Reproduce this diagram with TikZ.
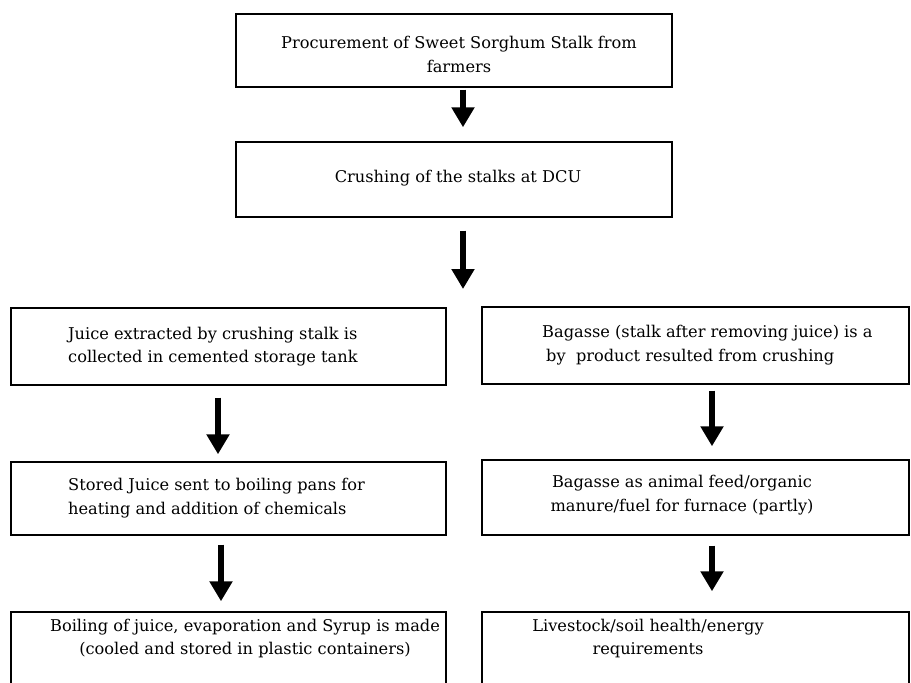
\documentclass[tikz,border=0pt]{standalone}
\usepackage{fontspec}
\setmainfont{DejaVu Serif}
\usetikzlibrary{arrows.meta}
\begin{document}
\begin{tikzpicture}[x=1pt,y=-1pt,
  box/.style={draw, line width=1.4pt, inner sep=0pt},
  txt/.style={inner sep=0pt, font=\fontsize{16.2}{23.5}\selectfont},
  arr/.style={line width=6pt, -{Triangle[width=22pt,length=20pt]}}]
\useasboundingbox (0,0) rectangle (911,683);
\clip (0,0) rectangle (911,683);
% boxes
\node[box, minimum width=436pt, minimum height=73pt] (b1) at (454,50.5) {};
\node[box, minimum width=436pt, minimum height=75pt] (b2) at (454,179.5) {};
\node[box, minimum width=435pt, minimum height=77pt] (b3) at (228.5,346.5) {};
\node[box, minimum width=427pt, minimum height=77pt] (b4) at (695.5,345.5) {};
\node[box, minimum width=435pt, minimum height=73pt] (b5) at (228.5,498.5) {};
\node[box, minimum width=427pt, minimum height=75pt] (b6) at (695.5,497.5) {};
\node[box, minimum width=435pt, minimum height=90pt] (b7) at (228.5,657) {};
\node[box, minimum width=427pt, minimum height=90pt] (b8) at (695.5,657) {};
% texts
\node[txt, align=center] (t1) at (459,54.5) {Procurement of Sweet Sorghum Stalk from\\farmers};
\node[txt] (t2) at (458,178) {Crushing of the stalks at DCU};
\node[txt, align=left, anchor=west] (t3) at (68,346.5) {Juice extracted by crushing stalk is\\collected in cemented storage tank};
\node[txt, align=left, anchor=west] (t4) at (542,345) {Bagasse (stalk after removing juice) is a\\\hspace*{4pt}by\ \ product resulted from crushing};
\node[txt, align=left, anchor=west] (t5) at (68,498) {Stored Juice sent to boiling pans for\\heating and addition of chemicals};
\node[txt, align=center] (t6) at (682,495) {Bagasse as animal feed/organic\\manure/fuel for furnace (partly)};
\node[txt, align=center] (t7) at (245,638.5) {Boiling of juice, evaporation and Syrup is made\\(cooled and stored in plastic containers)};
\node[txt, align=center] (t8) at (648,638.5) {Livestock/soil health/energy\\requirements};
% arrow x positions
\coordinate (xa) at (463,0);
\coordinate (xb) at (218,0);
\coordinate (xc) at (712,0);
\coordinate (xd) at (221,0);
\coordinate (split) at (463,289);
% arrows
\draw[arr, shorten <=2pt, shorten >=14pt] (b1.south -| xa) -- (b2.north -| xa);
\draw[arr, shorten <=13pt] (b2.south -| xa) -- (split);
\draw[arr, shorten <=12pt, shorten >=7pt] (b3.south -| xb) -- (b5.north -| xb);
\draw[arr, shorten <=6pt, shorten >=13pt] (b4.south -| xc) -- (b6.north -| xc);
\draw[arr, shorten <=9pt, shorten >=10pt] (b5.south -| xd) -- (b7.north -| xd);
\draw[arr, shorten <=10pt, shorten >=20pt] (b6.south -| xc) -- (b8.north -| xc);
\end{tikzpicture}
\end{document}
